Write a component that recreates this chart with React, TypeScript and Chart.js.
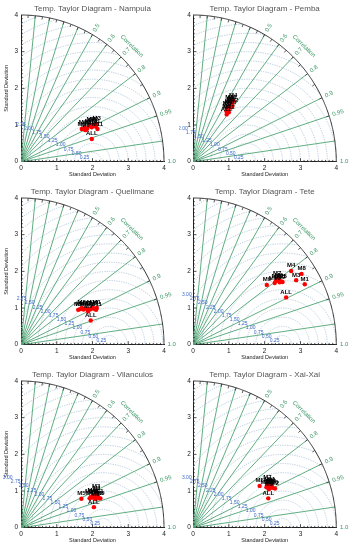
import React, { useEffect, useRef } from 'react';
import { Chart, registerables } from 'chart.js';

Chart.register(...registerables);

const FONT = "'Liberation Sans', Arial, sans-serif";

// ---------- data ----------
const stationNames = ['Nampula', 'Pemba', 'Quelimane', 'Tete', 'Vilanculos', 'Xai-Xai'];
const pointLabels = ['M1', 'M2', 'M3', 'M4', 'M5', 'M6', 'M7', 'M8', 'M9', 'M10', 'M11', 'M12', 'ALL'];

// points as (x, y) in standard-deviation space, order follows pointLabels
const nampulaX = [2.10, 2.05, 2.12, 1.90, 1.70, 1.80, 1.95, 2.00, 1.85, 1.78, 2.14, 1.98, 1.98];
const nampulaY = [0.95, 1.00, 1.03, 0.97, 0.89, 0.86, 1.00, 0.98, 0.90, 0.93, 0.89, 0.94, 0.62];

const pembaX = [1.05, 1.00, 1.10, 1.12, 0.95, 1.08, 0.98, 1.02, 0.93, 1.05, 1.00, 1.10, 0.94];
const pembaY = [1.55, 1.50, 1.62, 1.66, 1.45, 1.58, 1.42, 1.60, 1.38, 1.48, 1.35, 1.52, 1.29];

const quelimaneX = [2.12, 2.05, 1.95, 1.65, 1.60, 1.75, 1.85, 1.70, 1.88, 2.00, 2.10, 1.80, 1.95];
const quelimaneY = [1.00, 0.98, 0.97, 0.97, 0.95, 0.96, 0.98, 1.00, 0.91, 1.02, 0.95, 0.99, 0.66];

const teteX = [3.12, 2.31, 2.88, 2.74, 2.50, 2.40, 2.35, 3.03, 2.06, 2.28, 2.45, 2.42, 2.60];
const teteY = [1.65, 1.73, 1.76, 2.01, 1.71, 1.75, 1.80, 1.93, 1.63, 1.68, 1.73, 1.70, 1.29];

const vilanculosX = [2.12, 2.18, 2.10, 2.05, 1.69, 1.92, 2.00, 2.08, 2.22, 1.95, 2.15, 2.02, 2.04];
const vilanculosY = [0.92, 0.80, 0.98, 0.85, 0.79, 0.80, 0.82, 0.78, 0.80, 0.84, 0.86, 0.88, 0.56];

const xaixaiX = [2.15, 2.29, 2.12, 2.20, 1.86, 2.10, 2.08, 2.18, 2.12, 2.22, 2.14, 2.05, 2.10];
const xaixaiY = [1.12, 1.07, 1.10, 1.13, 1.14, 1.15, 1.22, 1.15, 1.05, 1.09, 1.18, 1.10, 0.80];

// reference (observed) standard deviation per station
const refStd = [2.0, 1.5, 2.47, 2.5, 2.3, 2.5];
// largest labelled centred-RMS circle per station
const rmsLabelMax = [2.25, 2.0, 2.75, 3.0, 3.0, 3.0];

const stdTicks = [0, 1, 2, 3, 4];
const corrLines = [0.1, 0.2, 0.3, 0.4, 0.5, 0.6, 0.7, 0.8, 0.9, 0.95, 0.99];
const corrLabels = ['0.5', '0.6', '0.7', '0.8', '0.9', '0.95', '1.0'];
const rmsStep = 0.25;

const panelXs = [nampulaX, pembaX, quelimaneX, teteX, vilanculosX, xaixaiX];
const panelYs = [nampulaY, pembaY, quelimaneY, teteY, vilanculosY, xaixaiY];

// ---------- colours ----------
const GREEN_LINE = '#4fa574';
const GREEN_TEXT = '#3a9663';
const RMS_LINE = '#b4c9dd';
const RMS_TEXT = '#3a68c8';

const taylorPlugin = {
  id: 'taylor',
  beforeDatasetsDraw(chart: any, _args: any, opts: any) {
    const ctx = chart.ctx as CanvasRenderingContext2D;
    const xs = chart.scales.x;
    const ys = chart.scales.y;
    const P = (x: number, y: number): [number, number] => [xs.getPixelForValue(x), ys.getPixelForValue(y)];
    const R = stdTicks[stdTicks.length - 1];
    const N = 200;
    const ref = opts.ref as number;

    // clip to the quarter disc
    ctx.save();
    ctx.beginPath();
    const [ox, oy] = P(0, 0);
    ctx.moveTo(ox, oy);
    for (let k = 0; k <= N; k++) {
      const t = (k / N) * (Math.PI / 2);
      const [a, b] = P(R * Math.cos(t), R * Math.sin(t));
      ctx.lineTo(a, b);
    }
    ctx.closePath();
    ctx.clip();

    // centred RMS circles
    ctx.strokeStyle = RMS_LINE;
    ctx.lineWidth = 0.9;
    ctx.setLineDash([1.3, 1.1]);
    const maxD = Math.sqrt(ref * ref + R * R);
    for (let d = rmsStep; d <= maxD + 1e-6; d += rmsStep) {
      ctx.beginPath();
      for (let k = 0; k <= N; k++) {
        const t = (k / N) * Math.PI;
        const [a, b] = P(ref + d * Math.cos(t), d * Math.sin(t));
        if (k === 0) ctx.moveTo(a, b);
        else ctx.lineTo(a, b);
      }
      ctx.stroke();
    }
    ctx.setLineDash([]);

    // correlation rays
    ctx.strokeStyle = GREEN_LINE;
    ctx.lineWidth = 0.9;
    corrLines.forEach((r) => {
      const [a, b] = P(R * r, R * Math.sqrt(1 - r * r));
      ctx.beginPath();
      ctx.moveTo(ox, oy);
      ctx.lineTo(a, b);
      ctx.stroke();
    });
    ctx.restore();

    // outer arc
    ctx.save();
    ctx.strokeStyle = '#333';
    ctx.lineWidth = 1;
    ctx.beginPath();
    for (let k = 0; k <= N; k++) {
      const t = (k / N) * (Math.PI / 2);
      const [a, b] = P(R * Math.cos(t), R * Math.sin(t));
      if (k === 0) ctx.moveTo(a, b);
      else ctx.lineTo(a, b);
    }
    ctx.stroke();
    // ticks on the arc
    ctx.lineWidth = 0.8;
    for (let i = 1; i < 20; i++) {
      const r = i * 0.05;
      const t = Math.acos(r);
      const [a, b] = P(R * Math.cos(t), R * Math.sin(t));
      const [c, d] = P((R - 0.08) * Math.cos(t), (R - 0.08) * Math.sin(t));
      ctx.beginPath();
      ctx.moveTo(a, b);
      ctx.lineTo(c, d);
      ctx.stroke();
    }

    // axis ticks, inward
    ctx.strokeStyle = '#222';
    ctx.lineWidth = 0.8;
    for (let i = 1; i < R * 10; i++) {
      const v = i / 10;
      const len = i % 10 === 0 ? 3.5 : 1.8;
      const [a, b] = P(v, 0);
      ctx.beginPath();
      ctx.moveTo(a, b);
      ctx.lineTo(a, b - len);
      ctx.stroke();
      const [c, d] = P(0, v);
      ctx.beginPath();
      ctx.moveTo(c, d);
      ctx.lineTo(c + len, d);
      ctx.stroke();
    }
    ctx.restore();

    // correlation labels
    ctx.save();
    ctx.fillStyle = GREEN_TEXT;
    ctx.font = `6px ${FONT}`;
    ctx.textAlign = 'left';
    ctx.textBaseline = 'middle';
    corrLabels.forEach((s) => {
      const r = parseFloat(s);
      const t = Math.acos(r);
      const [a, b] = P((R + 0.1) * Math.cos(t), (R + 0.1) * Math.sin(t));
      ctx.save();
      ctx.translate(a, b);
      ctx.rotate(-t);
      ctx.fillText(s, 0, 0);
      ctx.restore();
    });
    {
      const t = (45.5 * Math.PI) / 180;
      const [a, b] = P((R + 0.42) * Math.cos(t), (R + 0.42) * Math.sin(t));
      ctx.save();
      ctx.translate(a, b);
      ctx.rotate(Math.PI / 2 - t);
      ctx.textAlign = 'center';
      ctx.fillText('Correlation', 0, 0);
      ctx.restore();
    }
    ctx.restore();

    // RMS labels
    ctx.save();
    ctx.fillStyle = RMS_TEXT;
    ctx.font = `5px ${FONT}`;
    ctx.textAlign = 'center';
    ctx.textBaseline = 'middle';
    const phi = (153 * Math.PI) / 180;
    for (let d = rmsStep; d <= opts.labelMax + 1e-6; d += rmsStep) {
      const [a, b] = P(ref + d * Math.cos(phi), d * Math.sin(phi));
      ctx.fillText(d.toFixed(2), a, b);
    }
    ctx.restore();
  },
  afterDatasetsDraw(chart: any, _args: any, opts: any) {
    const ctx = chart.ctx as CanvasRenderingContext2D;
    const meta = chart.getDatasetMeta(0);
    ctx.save();
    ctx.fillStyle = '#000';
    ctx.font = `bold 6px ${FONT}`;
    ctx.textAlign = 'center';
    ctx.textBaseline = 'bottom';
    meta.data.forEach((el: any, i: number) => {
      ctx.fillText(opts.labels[i], el.x, el.y - 2.2);
    });
    ctx.restore();
  },
};

const PANEL_W = 179;
const PANEL_H = 183;

function TaylorPanel({ idx }: { idx: number }) {
  const canvasRef = useRef<HTMLCanvasElement>(null);
  const isLeft = idx % 2 === 0;
  const left = isLeft ? 0 : PANEL_W;
  const top = Math.floor(idx / 2) * PANEL_H;

  useEffect(() => {
    const canvas = canvasRef.current;
    if (!canvas) return;
    const xs = panelXs[idx];
    const ysArr = panelYs[idx];
    const chart = new Chart(canvas, {
      type: 'scatter',
      data: {
        datasets: [
          {
            data: xs.map((x, i) => ({ x, y: ysArr[i] })),
            backgroundColor: '#ff0000',
            borderColor: '#ff0000',
            borderWidth: 0,
            pointRadius: 2.2,
            pointHoverRadius: 2.2,
          },
        ],
      },
      options: {
        responsive: false,
        animation: false,
        events: [],
        layout: { padding: { left: 0, right: isLeft ? 15 : 21.7, top: 0, bottom: 0 } },
        scales: {
          x: {
            type: 'linear',
            min: stdTicks[0],
            max: stdTicks[stdTicks.length - 1],
            afterBuildTicks: (s: any) => {
              s.ticks = stdTicks.map((v) => ({ value: v }));
            },
            afterFit: (s: any) => {
              s.height = 21.3;
            },
            grid: { display: false, drawTicks: false },
            border: { display: true, color: '#222', width: 1 },
            ticks: {
              font: { family: FONT, size: 6.5 },
              color: '#222',
              padding: 2.5,
              maxRotation: 0,
              autoSkip: false,
            },
            title: {
              display: true,
              text: 'Standard Deviation',
              font: { family: FONT, size: 5.5 },
              color: '#222',
              padding: { top: 0, bottom: 5.4 },
            },
          },
          y: {
            type: 'linear',
            min: stdTicks[0],
            max: stdTicks[stdTicks.length - 1],
            afterBuildTicks: (s: any) => {
              s.ticks = stdTicks.map((v) => ({ value: v }));
            },
            afterFit: (s: any) => {
              s.width = isLeft ? 21 : 14;
            },
            grid: { display: false, drawTicks: false },
            border: { display: true, color: '#222', width: 1 },
            ticks: {
              font: { family: FONT, size: 6.5 },
              color: '#222',
              padding: isLeft ? 3 : 2.2,
              autoSkip: false,
            },
            title: {
              display: isLeft,
              text: 'Standard Deviation',
              font: { family: FONT, size: 5.5 },
              color: '#222',
              padding: { top: 3.5, bottom: 0 },
            },
          },
        },
        plugins: {
          legend: { display: false },
          tooltip: { enabled: false },
          title: {
            display: true,
            text: `Temp. Taylor Diagram - ${stationNames[idx]}`,
            font: { family: FONT, size: 8, weight: 'normal' },
            color: '#555',
            padding: { top: 4, bottom: 1.4 },
            fullSize: false,
          },
          taylor: { ref: refStd[idx], labelMax: rmsLabelMax[idx], labels: pointLabels },
        } as any,
      },
      plugins: [taylorPlugin],
    });
    return () => chart.destroy();
  }, [idx]);

  return (
    <canvas
      ref={canvasRef}
      width={PANEL_W}
      height={PANEL_H}
      style={{ position: 'absolute', left, top, width: PANEL_W, height: PANEL_H }}
    />
  );
}

export default function App() {
  return (
    <div style={{ position: 'absolute', left: 0, top: 0, width: 358, height: 550, background: '#fff' }}>
      {stationNames.map((_, i) => (
        <TaylorPanel key={i} idx={i} />
      ))}
    </div>
  );
}
